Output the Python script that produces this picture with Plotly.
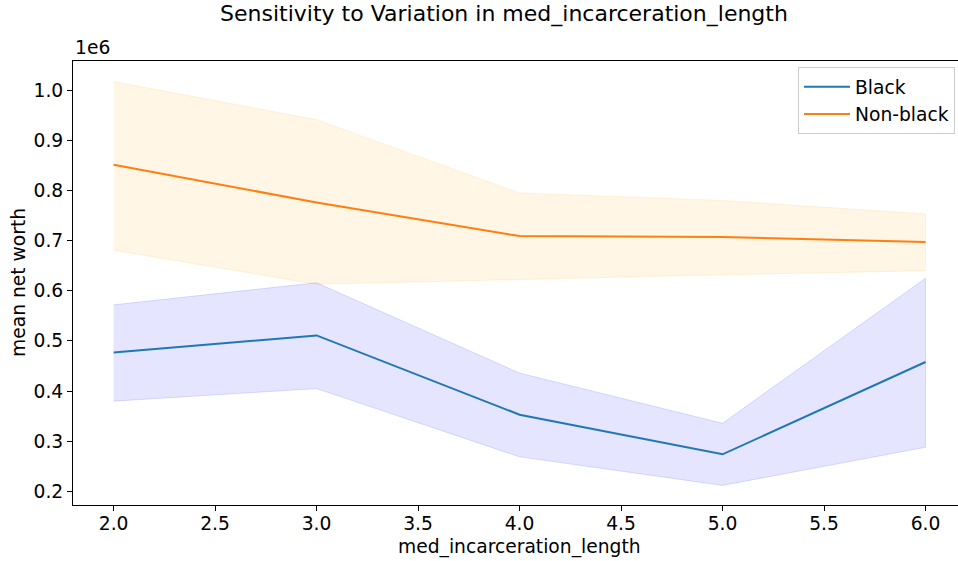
import plotly.graph_objects as go

# ---- data ----
x_vals = [2.0, 3.0, 4.0, 5.0, 6.0]

black_mean = [477000, 511000, 353000, 274000, 458000]
black_upper = [572000, 616000, 436000, 336000, 625000]
black_lower = [380000, 405000, 269000, 212000, 288000]

nonblack_mean = [851000, 776000, 709000, 707000, 697000]
nonblack_upper = [1017000, 941000, 795000, 780000, 753000]
nonblack_lower = [681000, 613000, 622000, 632000, 640000]

x_ticks = [2.0, 2.5, 3.0, 3.5, 4.0, 4.5, 5.0, 5.5, 6.0]
x_tick_labels = ["2.0", "2.5", "3.0", "3.5", "4.0", "4.5", "5.0", "5.5", "6.0"]
y_ticks = [200000, 300000, 400000, 500000, 600000, 700000, 800000, 900000, 1000000]
y_tick_labels = ["0.2", "0.3", "0.4", "0.5", "0.6", "0.7", "0.8", "0.9", "1.0"]

FONT = "DejaVu Sans"
FS = 18.7
W, H = 958, 561
ML, MR, MT, MB = 73, 0, 61, 56

fig = go.Figure()


def band(lower, upper, fill, edge):
    fig.add_trace(go.Scatter(
        x=x_vals + x_vals[::-1],
        y=upper + lower[::-1],
        fill="toself",
        fillcolor=fill,
        line=dict(color=edge, width=1),
        mode="lines",
        hoverinfo="skip",
        showlegend=False,
    ))


band(nonblack_lower, nonblack_upper, "rgba(255,165,0,0.1)", "rgba(255,165,0,0.12)")
band(black_lower, black_upper, "rgba(0,0,255,0.1)", "rgba(0,0,255,0.12)")

fig.add_trace(go.Scatter(x=x_vals, y=black_mean, mode="lines", name="Black",
                         line=dict(color="#1f77b4", width=2)))
fig.add_trace(go.Scatter(x=x_vals, y=nonblack_mean, mode="lines", name="Non-black",
                         line=dict(color="#ff7f0e", width=2)))

plot_w = W - ML - MR
plot_h = H - MT - MB

fig.update_layout(
    width=W, height=H,
    margin=dict(l=ML, r=MR, t=MT, b=MB),
    paper_bgcolor="white",
    plot_bgcolor="white",
    font=dict(family=FONT, size=FS, color="black"),
    title=dict(
        text="Sensitivity to Variation in med_incarceration_length",
        x=504 / W, xanchor="center", xref="container",
        y=1 - 13 / H, yanchor="middle", yref="container",
        font=dict(family=FONT, size=22, color="black"),
    ),
    xaxis=dict(
        range=[1.8, 6.16],
        tickvals=x_ticks, ticktext=x_tick_labels,
        ticks="outside", ticklen=5, tickwidth=1, tickcolor="black",
        ticklabelstandoff=-3,
        showline=True, linecolor="black", linewidth=1, mirror=True,
        showgrid=False, zeroline=False,
        tickfont=dict(size=FS),
    ),
    yaxis=dict(
        range=[173000, 1058000],
        tickvals=y_ticks, ticktext=y_tick_labels,
        ticks="outside", ticklen=5, tickwidth=1, tickcolor="black",
        showline=True, linecolor="black", linewidth=1,
        showgrid=False, zeroline=False,
        tickfont=dict(size=FS),
    ),
    legend=dict(
        x=(955 - ML) / plot_w, xanchor="right",
        y=(H - MB - 67) / plot_h, yanchor="top",
        bgcolor="white", bordercolor="#cccccc", borderwidth=1,
        font=dict(size=FS),
        itemwidth=46,
    ),
    annotations=[
        dict(text="1e6", xref="paper", yref="paper",
             x=0, y=1, xanchor="left", yanchor="bottom", yshift=1,
             showarrow=False, font=dict(size=FS, color="black")),
        dict(text="med_incarceration_length", xref="paper", yref="paper",
             x=(519.5 - ML) / plot_w, y=-(547 - (H - MB)) / plot_h,
             xanchor="center", yanchor="middle",
             showarrow=False, font=dict(size=FS, color="black")),
        dict(text="mean net worth", xref="paper", yref="paper",
             x=-(ML - 18) / plot_w, y=0.5, textangle=-90,
             xanchor="center", yanchor="middle",
             showarrow=False, font=dict(size=FS, color="black")),
    ],
)

fig.write_html("out.html", post_script="document.body.style.margin='0';",
               config={"displayModeBar": False})
